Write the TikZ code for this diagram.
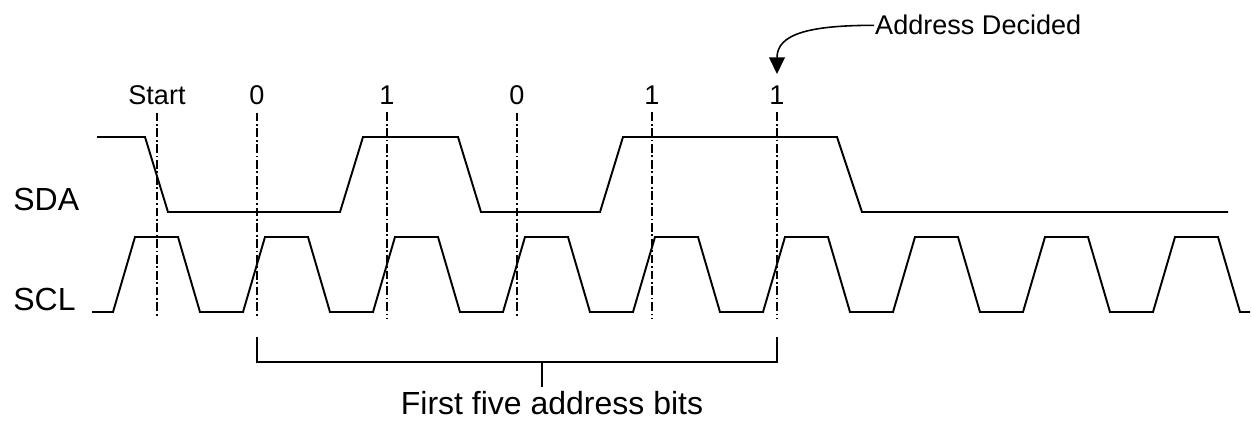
\documentclass[tikz,border=0pt]{standalone}
\usepackage{fontspec}
\setmainfont{Liberation Sans}
\usetikzlibrary{arrows.meta}
\begin{document}
\begin{tikzpicture}[x=0.02cm,y=-0.02cm,
wave/.style={line width=1.1pt},
guide/.style={line width=0.6pt,dash pattern=on 5pt off 1.5pt on 1pt off 1.5pt},
lbl/.style={inner sep=0pt,anchor=base,font=\fontsize{15.4}{18}\selectfont},
big/.style={inner sep=0pt,font=\fontsize{18.2}{22}\selectfont}]
\useasboundingbox (0,0) rectangle (1252,422);
% signal names
\node[big,anchor=base west] (sda) at (13,211) {SDA};
\node[big,anchor=base west] (scl) at (13,311) {SCL};
% SDA
\draw[wave] (97,137) -- (145,137) -- (168,212) -- (340,212) -- (363,137) -- (458,137) -- (481,212) -- (600,212) -- (623,137) -- (837,137) -- (862,212) -- (1228,212);
% SCL
\draw[wave] (92,312) \foreach \i in {0,...,8}{ -- ({113+130*\i},312) -- ({135+130*\i},237) -- ({178+130*\i},237) -- ({200+130*\i},312)} -- (1250,312);
% bit labels
\foreach \x/\t/\n in {157/Start/st,257/0/b1,387/1/b2,517/0/b3,652/1/b4,777/1/b5}{
  \node[lbl] (\n) at (\x,105) {\t};
  \coordinate (\n-end) at (\x,318);
  \draw[guide,shorten <=4pt] (\n.south) -- (\n-end);
}
% address decided
\node[lbl,anchor=base west,inner sep=0.5pt] (adr) at (874,35) {Address Decided};
\coordinate (tip) at (777,74);
\draw[line width=0.9pt,-{Triangle[length=9.5pt,width=9pt]}] (adr.west) .. controls +(-65,0) and +(0,-40) .. (tip);
% bracket
\coordinate (bl) at (257,337);
\coordinate (br) at (777,337);
\coordinate (mid) at (542,362);
\coordinate (tick) at (542,387);
\draw[line width=0.9pt] (bl) -- (bl |- mid) -- (br |- mid) -- (br);
\draw[line width=0.9pt] (mid) -- (tick);
\node[big,anchor=base] (bits) at (552,415) {First five address bits};
\end{tikzpicture}
\end{document}
